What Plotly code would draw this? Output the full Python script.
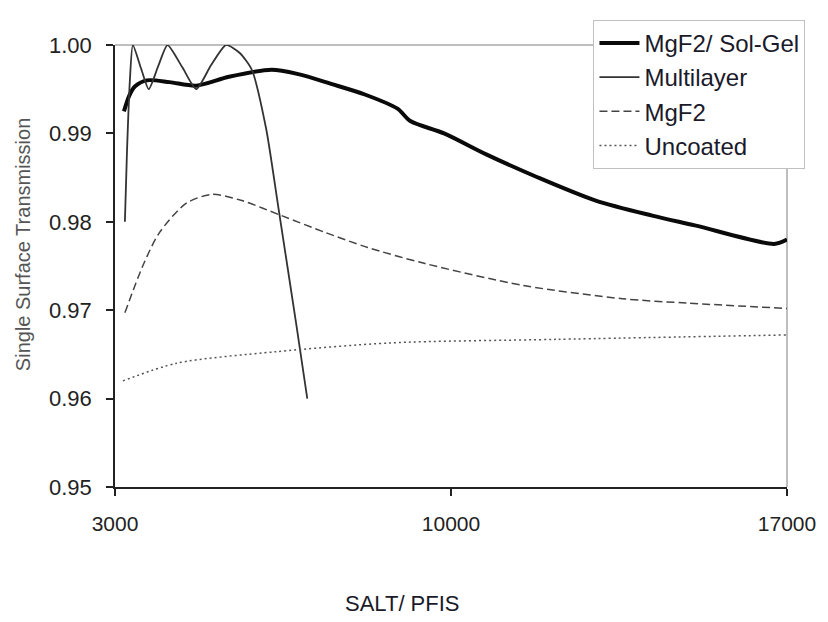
import plotly.graph_objects as go

# ---- data ----
solgel_x = [3186, 3300, 3413, 3661, 4136, 4693, 5375, 6263, 6820, 7502, 8204, 8885, 9153, 9855, 10745, 11776, 13015, 14192, 15080, 16731, 17000]
solgel_y = [0.9925, 0.9943, 0.9953, 0.9960, 0.9958, 0.9954, 0.9964, 0.9972, 0.9967, 0.9956, 0.9944, 0.9928, 0.9914, 0.9900, 0.9876, 0.9851, 0.9824, 0.9807, 0.9796, 0.9775, 0.9780]

multi_x = [3206, 3250, 3310, 3372, 3540, 3702, 3900, 4094, 4400, 4693, 5000, 5313, 5600, 5850, 6150, 6407, 6779, 7006]
multi_y = [0.9800, 0.9880, 0.9960, 1.0000, 0.9974, 0.9950, 0.9976, 1.0000, 0.9975, 0.9950, 0.9977, 1.0000, 0.9991, 0.9972, 0.9905, 0.9815, 0.9683, 0.9600]

mgf2_x = [3206, 3578, 3929, 4487, 5024, 5643, 6469, 7378, 8265, 9442, 11507, 13572, 14935, 17000]
mgf2_y = [0.9697, 0.9750, 0.9788, 0.9821, 0.9831, 0.9824, 0.9807, 0.9788, 0.9771, 0.9753, 0.9728, 0.9713, 0.9708, 0.9702]

unc_x = [3165, 4280, 6345, 8740, 12189, 17000]
unc_y = [0.9620, 0.9640, 0.9653, 0.9663, 0.9667, 0.9672]

x_ticks = [3000, 10000, 17000]
y_ticks = [0.95, 0.96, 0.97, 0.98, 0.99, 1.00]

FONT = "Liberation Sans, Arial, Helvetica, sans-serif"

fig = go.Figure()
fig.add_trace(go.Scatter(x=solgel_x, y=solgel_y, mode="lines", name="MgF2/ Sol-Gel",
                         line=dict(color="#0a0a0a", width=4, shape="spline", smoothing=0.8)))
fig.add_trace(go.Scatter(x=multi_x, y=multi_y, mode="lines", name="Multilayer",
                         line=dict(color="#333333", width=1.8, shape="spline", smoothing=0.6)))
fig.add_trace(go.Scatter(x=mgf2_x, y=mgf2_y, mode="lines", name="MgF2",
                         line=dict(color="#444444", width=1.5, dash="8px,4px", shape="spline", smoothing=0.8)))
fig.add_trace(go.Scatter(x=unc_x, y=unc_y, mode="lines", name="Uncoated",
                         line=dict(color="#555555", width=1.5, dash="2px,3px", shape="spline", smoothing=0.8)))

# gray frame on top and right
fig.add_shape(type="line", xref="paper", yref="paper", x0=0, x1=1, y0=1, y1=1,
              line=dict(color="#a8a8a8", width=1.5), layer="below")
fig.add_shape(type="line", xref="paper", yref="paper", x0=1, x1=1, y0=0, y1=1,
              line=dict(color="#a8a8a8", width=1.5), layer="below")

fig.add_annotation(text="Single Surface Transmission", xref="paper", yref="paper",
                   x=-0.1357, y=0.549, xanchor="center", yanchor="middle",
                   textangle=-90, showarrow=False,
                   font=dict(family=FONT, size=20, color="#555555"))
fig.add_annotation(text="SALT/ PFIS", xref="paper", yref="paper",
                   x=0.428, y=-0.264, xanchor="center", yanchor="middle", showarrow=False,
                   font=dict(family=FONT, size=22, color="#1a1a2a"))

# page body has an 8px margin, so the figure is sized/offset to compensate
fig.update_layout(
    width=820, height=614,
    margin=dict(l=107, r=35, t=24, b=135),
    paper_bgcolor="white", plot_bgcolor="white",
    font=dict(family=FONT, color="#222222"),
    showlegend=True,
    legend=dict(x=0.712, y=1.057, xanchor="left", yanchor="top",
                bgcolor="white", bordercolor="#c0c0c0", borderwidth=1,
                font=dict(family=FONT, size=24, color="#1a1a2a"),
                tracegroupgap=0, itemwidth=40),
    xaxis=dict(range=[3000, 17000], tickvals=x_ticks, ticktext=[str(v) for v in x_ticks],
               ticks="outside", ticklen=7, tickwidth=1.5, tickcolor="#222",
               showline=True, linecolor="#222", linewidth=1.5,
               showgrid=False, zeroline=False, ticklabelstandoff=10,
               tickfont=dict(family=FONT, size=21, color="#222")),
    yaxis=dict(range=[0.95, 1.0], tickvals=y_ticks, tickformat=".2f",
               ticks="outside", ticklen=7, tickwidth=1.5, tickcolor="#222",
               showline=True, linecolor="#222", linewidth=1.5,
               showgrid=False, zeroline=False, ticklabelstandoff=10,
               tickfont=dict(family=FONT, size=22, color="#222")),
)

fig.write_html("out.html")
